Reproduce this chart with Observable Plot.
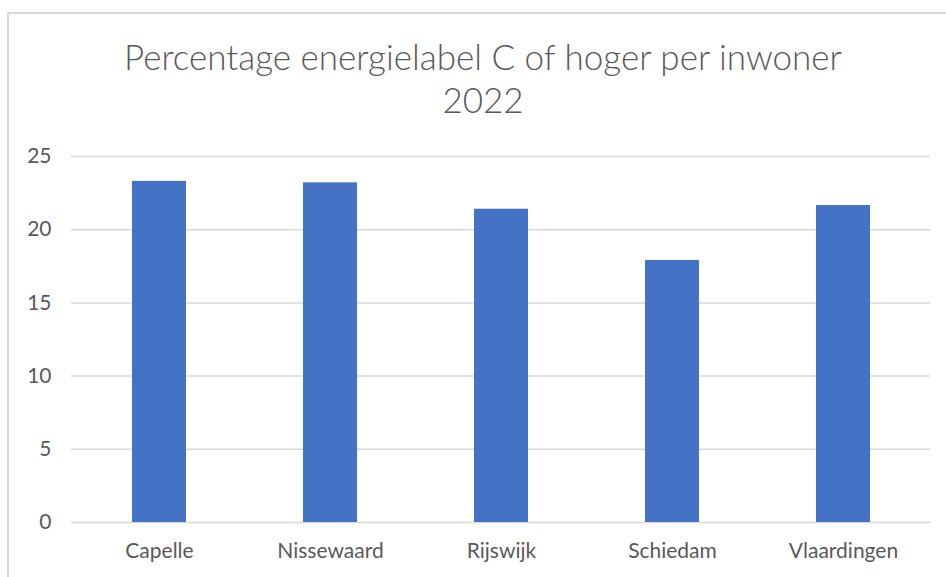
<!DOCTYPE html>
<html>
<head>
<meta charset="utf-8">
<script src="https://cdn.jsdelivr.net/npm/d3@7"></script>
<script src="https://cdn.jsdelivr.net/npm/@observablehq/plot@0.6"></script>
<style>
  html, body { margin: 0; padding: 0; background: #fff; width: 946px; height: 577px; overflow: hidden; }
  #frame { position: absolute; left: 7px; top: 12px; width: 1000px; height: 700px; border-left: 2px solid #d9d9d9; border-top: 2px solid #d9d9d9; box-sizing: border-box; pointer-events: none; }
  #title { position: relative; height: 130px; width: 946px; box-sizing: border-box; padding-top: 35px; padding-left: 20px; text-align: center;
    font-family: Lato, "Open Sans", sans-serif; font-weight: 300; font-size: 35px; line-height: 43px; color: #595959; }
  #chart { position: relative; }
</style>
</head>
<body>
<div id="frame"></div>
<div id="title">Percentage energielabel C of hoger per inwoner<br>2022</div>
<div id="chart"></div>
<script>
const gemeenten = ["Capelle", "Nissewaard", "Rijswijk", "Schiedam", "Vlaardingen"];
const percentages = [23.3, 23.2, 21.4, 17.9, 21.65];
const yTicks = [0, 5, 10, 15, 20, 25];

const data = gemeenten.map((g, i) => ({gemeente: g, waarde: percentages[i]}));

const chart = Plot.plot({
  width: 946,
  height: 447,
  marginLeft: 71,
  marginRight: 16,
  marginTop: 26,
  marginBottom: 55,
  style: {fontFamily: "Lato, 'Open Sans', sans-serif", fontSize: "21px", color: "#595959", background: "transparent"},
  x: {domain: gemeenten, paddingInner: 0.686, paddingOuter: 0.343, label: null, tickSize: 0, tickPadding: 21},
  y: {domain: [0, 25], ticks: yTicks, label: null, tickSize: 0, tickPadding: 20},
  marks: [
    Plot.gridY(yTicks, {stroke: "#d9d9d9", strokeOpacity: 1, strokeWidth: 1.5}),
    Plot.barY(data, {x: "gemeente", y: "waarde", fill: "#4472c4"})
  ]
});
document.getElementById("chart").appendChild(chart);
</script>
</body>
</html>
